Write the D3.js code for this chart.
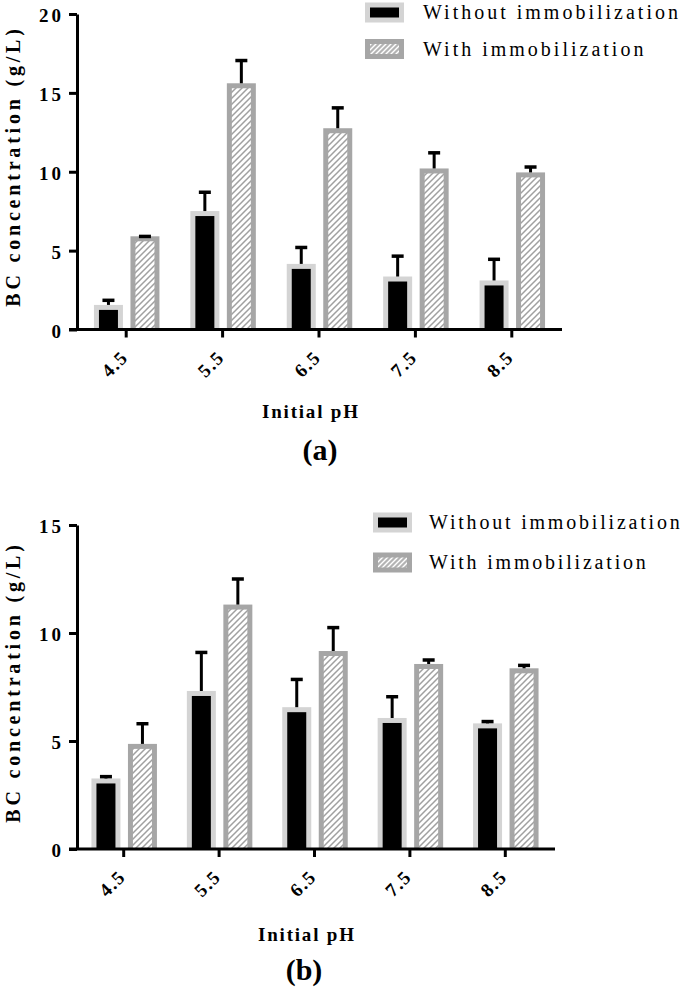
<!DOCTYPE html>
<html>
<head>
<meta charset="utf-8">
<script src="https://cdn.jsdelivr.net/npm/d3@7/dist/d3.min.js"></script>
<style>
  html, body { margin: 0; padding: 0; background: #fff; }
  svg { display: block; }
</style>
</head>
<body>
<svg id="chart" width="685" height="990"></svg>
<script>
// ---------------- data ----------------
const categories = ["4.5", "5.5", "6.5", "7.5", "8.5"];
const seriesNames = ["Without immobilization", "With immobilization"];

const aWithout    = [1.4, 7.35, 4.0, 3.2, 2.95];
const aWithoutErr = [0.45, 1.35, 1.2, 1.45, 1.5];
const aWith       = [5.75, 15.45, 12.6, 10.05, 9.8];
const aWithErr    = [0.15, 1.6, 1.45, 1.15, 0.5];

const bWithout    = [3.15, 7.2, 6.45, 5.95, 5.7];
const bWithoutErr = [0.2, 1.9, 1.4, 1.1, 0.2];
const bWith       = [4.75, 11.2, 9.05, 8.45, 8.25];
const bWithErr    = [1.05, 1.3, 1.2, 0.3, 0.25];

const yTicksA = [0, 5, 10, 15, 20];
const yTicksB = [0, 5, 10, 15];

const panelLabels = ["(a)", "(b)"];
const xTitle = "Initial pH";
const yTitle = "BC concentration (g/L)";

// ---------------- layout ----------------
const panels = [
  { values: [aWithout, aWith], errors: [aWithoutErr, aWithErr], ticks: yTicksA, yMax: 20,
    xRange: [78, 560], yRange: [329.5, 14], axisX: 77, axisEnd: 562,
    legendY: [12.5, 49], swX: 365, textX: 423, legendLS: 3.0,
    xTitleX: 262, xTitleY: 418, label: panelLabels[0], labelX: 320, labelY: 460,
    yTitleY: 166 },
  { values: [bWithout, bWith], errors: [bWithoutErr, bWithErr], ticks: yTicksB, yMax: 15,
    xRange: [76, 553], yRange: [849, 525], axisX: 77, axisEnd: 555,
    legendY: [522.5, 562.5], swX: 373, textX: 429, legendLS: 2.8,
    xTitleX: 258, xTitleY: 941, label: panelLabels[1], labelX: 304, labelY: 980,
    yTitleY: 682 }
];

const seriesStyle = [
  { border: "#d4d4d4", fill: "#000" },
  { border: "#a6a6a6", fill: "url(#hatch)" }
];

const svg = d3.select("#chart");
const defs = svg.append("defs");

const hp = defs.append("pattern").attr("id", "hatch")
  .attr("patternUnits", "userSpaceOnUse").attr("width", 6).attr("height", 6);
hp.append("rect").attr("width", 6).attr("height", 6).attr("fill", "#fff");
hp.append("path").attr("d", "M-1,1 l2,-2 M0,6 l6,-6 M5,7 l2,-2")
  .attr("stroke", "#a0a0a0").attr("stroke-width", 1.5);

const lp = defs.append("pattern").attr("id", "hatchLegend")
  .attr("patternUnits", "userSpaceOnUse").attr("width", 5).attr("height", 5);
lp.append("rect").attr("width", 5).attr("height", 5).attr("fill", "#b4b4b4");
lp.append("path").attr("d", "M-1,1 l2,-2 M0,5 l5,-5 M4,6 l2,-2")
  .attr("stroke", "#fff").attr("stroke-width", 1.4);

const serif = "'Liberation Serif', 'Times New Roman', serif";

panels.forEach(p => {
  const g = svg.append("g");
  const x0 = d3.scaleBand().domain(categories).range(p.xRange);
  const x1 = d3.scaleBand().domain(seriesNames).range([-36, 37]);
  const y = d3.scaleLinear().domain([0, p.yMax]).range(p.yRange);
  const barW = 24, sw = 5;

  const cx = (c, s) => x0(c) + x0.bandwidth() / 2 + x1(s) + x1.bandwidth() / 2;

  // bars
  seriesNames.forEach((s, si) => {
    const data = categories.map((c, i) => ({ c, v: p.values[si][i], e: p.errors[si][i] }));
    const sg = g.append("g");
    sg.selectAll("rect.outer").data(data).join("rect")
      .attr("x", d => cx(d.c, s) - (barW + sw) / 2)
      .attr("y", d => y(d.v) - sw / 2)
      .attr("width", barW + sw)
      .attr("height", d => y(0) - y(d.v) + sw / 2)
      .attr("fill", seriesStyle[si].border);
    sg.selectAll("rect.inner").data(data).join("rect")
      .attr("x", d => cx(d.c, s) - (barW - sw) / 2)
      .attr("y", d => y(d.v) + sw / 2)
      .attr("width", barW - sw)
      .attr("height", d => y(0) - y(d.v) - sw / 2)
      .attr("fill", seriesStyle[si].fill);
    // error bars
    sg.selectAll("line.stem").data(data).join("line")
      .attr("x1", d => cx(d.c, s)).attr("x2", d => cx(d.c, s))
      .attr("y1", d => y(d.v) - sw / 2).attr("y2", d => y(d.v + d.e))
      .attr("stroke", "#000").attr("stroke-width", 3);
    sg.selectAll("line.cap").data(data).join("line")
      .attr("x1", d => cx(d.c, s) - 6).attr("x2", d => cx(d.c, s) + 6)
      .attr("y1", d => y(d.v + d.e)).attr("y2", d => y(d.v + d.e))
      .attr("stroke", "#000").attr("stroke-width", 3.5);
  });

  // x axis
  const xa = g.append("g").attr("transform", `translate(0,${y(0)})`)
    .call(d3.axisBottom(x0).tickSize(8).tickSizeOuter(0));
  xa.select(".domain").remove();
  xa.selectAll(".tick line").attr("stroke", "#000").attr("stroke-width", 3);
  xa.selectAll(".tick text")
    .attr("y", 0).attr("dy", 0).attr("x", 0)
    .attr("transform", "translate(3,29) rotate(-45)")
    .style("text-anchor", "end")
    .attr("font-family", serif).attr("font-weight", "bold").attr("font-size", 19)
    .attr("letter-spacing", 1.5).attr("fill", "#000");
  g.append("line")
    .attr("x1", p.axisX - 8).attr("x2", p.axisEnd)
    .attr("y1", y(0)).attr("y2", y(0))
    .attr("stroke", "#000").attr("stroke-width", 3);

  // y axis
  const ya = g.append("g").attr("transform", `translate(${p.axisX},0)`)
    .call(d3.axisLeft(y).tickValues(p.ticks).tickSize(8).tickSizeOuter(0).tickPadding(5));
  ya.select(".domain").attr("stroke", "#000").attr("stroke-width", 3);
  ya.selectAll(".tick line").attr("stroke", "#000").attr("stroke-width", 3);
  ya.selectAll(".tick text")
    .attr("font-family", serif).attr("font-weight", "bold").attr("font-size", 19)
    .attr("letter-spacing", 3).attr("fill", "#000").attr("dy", "0.42em");

  // y title
  g.append("text")
    .attr("transform", `translate(20,${p.yTitleY}) rotate(-90)`)
    .attr("text-anchor", "middle")
    .attr("font-family", serif).attr("font-weight", "bold").attr("font-size", 20)
    .attr("letter-spacing", 3.8)
    .text(yTitle);

  // x title
  g.append("text")
    .attr("x", p.xTitleX).attr("y", p.xTitleY)
    .attr("font-family", serif).attr("font-weight", "bold").attr("font-size", 19)
    .attr("letter-spacing", 1.8)
    .text(xTitle);

  // panel label
  g.append("text")
    .attr("x", p.labelX).attr("y", p.labelY)
    .attr("text-anchor", "middle")
    .attr("font-family", serif).attr("font-weight", "bold").attr("font-size", 30)
    .text(p.label);

  // legend
  const legendFills = ["#000", "url(#hatchLegend)"];
  seriesNames.forEach((s, si) => {
    const ly = p.legendY[si];
    g.append("rect").attr("x", p.swX).attr("y", ly - 10).attr("width", 39).attr("height", 20)
      .attr("fill", seriesStyle[si].border);
    g.append("rect").attr("x", p.swX + 5).attr("y", ly - 5).attr("width", 29).attr("height", 10)
      .attr("fill", legendFills[si]);
    g.append("text").attr("x", p.textX).attr("y", ly + 6.5)
      .attr("font-family", serif).attr("font-size", 20).attr("letter-spacing", p.legendLS)
      .text(s);
  });
});
</script>
</body>
</html>
